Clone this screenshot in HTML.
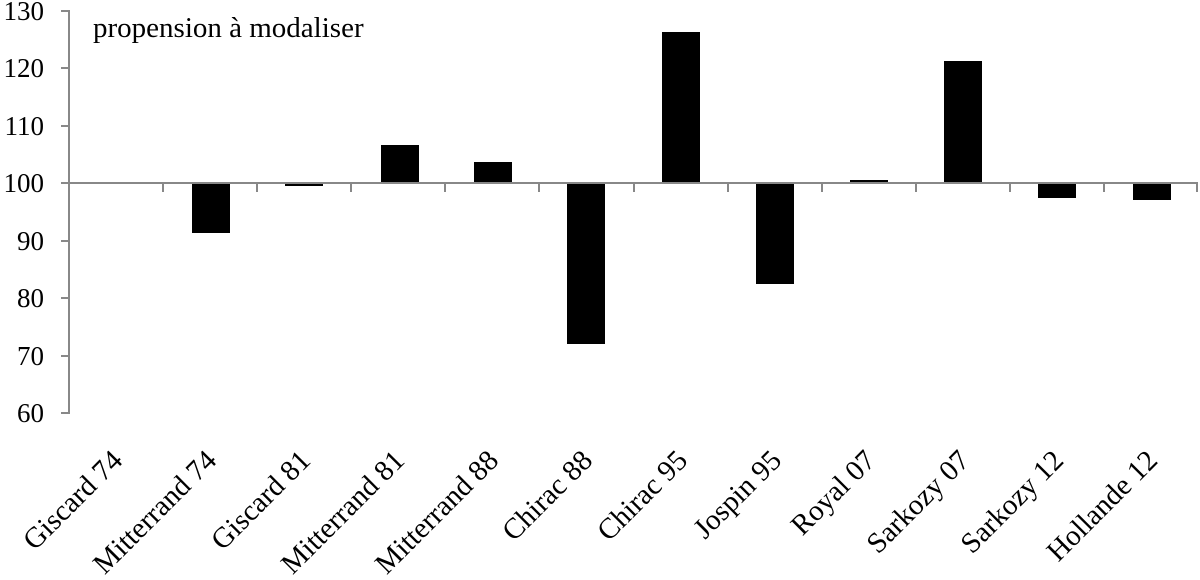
<!DOCTYPE html>
<html><head><meta charset="utf-8"><style>
html,body{margin:0;padding:0;background:#fff;}
svg{display:block;font-family:"Liberation Serif",serif;}
</style></head><body>
<svg width="1200" height="580" viewBox="0 0 1200 580">
<g fill="#000">
<rect x="192" y="183" width="38" height="50"/>
<rect x="285" y="183" width="38" height="3"/>
<rect x="381" y="145" width="38" height="38"/>
<rect x="474" y="162" width="38" height="21"/>
<rect x="567" y="183" width="38" height="161"/>
<rect x="662" y="32" width="38" height="151"/>
<rect x="756" y="183" width="38" height="101"/>
<rect x="850" y="180" width="38" height="3"/>
<rect x="944" y="61" width="38" height="122"/>
<rect x="1038" y="183" width="38" height="15"/>
<rect x="1133" y="183" width="38" height="17"/>
</g>
<g stroke="#888" stroke-width="2" fill="none">
<line x1="69" y1="10" x2="69" y2="414"/>
<line x1="61" y1="11" x2="69" y2="11"/>
<line x1="61" y1="68" x2="69" y2="68"/>
<line x1="61" y1="126" x2="69" y2="126"/>
<line x1="61" y1="183" x2="69" y2="183"/>
<line x1="61" y1="241" x2="69" y2="241"/>
<line x1="61" y1="298" x2="69" y2="298"/>
<line x1="61" y1="356" x2="69" y2="356"/>
<line x1="61" y1="413" x2="69" y2="413"/>
<line x1="69" y1="183" x2="1198" y2="183"/>
<line x1="163" y1="183" x2="163" y2="192"/>
<line x1="257" y1="183" x2="257" y2="192"/>
<line x1="351" y1="183" x2="351" y2="192"/>
<line x1="445" y1="183" x2="445" y2="192"/>
<line x1="539" y1="183" x2="539" y2="192"/>
<line x1="634" y1="183" x2="634" y2="192"/>
<line x1="728" y1="183" x2="728" y2="192"/>
<line x1="822" y1="183" x2="822" y2="192"/>
<line x1="916" y1="183" x2="916" y2="192"/>
<line x1="1010" y1="183" x2="1010" y2="192"/>
<line x1="1104" y1="183" x2="1104" y2="192"/>
<line x1="1197" y1="183" x2="1197" y2="192"/>
</g>
<g font-size="27" text-anchor="end" fill="#000">
<text x="44" y="20">130</text>
<text x="44" y="77">120</text>
<text x="44" y="135">110</text>
<text x="44" y="192">100</text>
<text x="44" y="250">90</text>
<text x="44" y="307">80</text>
<text x="44" y="365">70</text>
<text x="44" y="422">60</text>
</g>
<text x="93" y="37" font-size="29" fill="#000">propension à modaliser</text>
<g font-size="29" text-anchor="end" fill="#000">
<text transform="translate(124,462) rotate(-45)">Giscard 74</text>
<text transform="translate(218,462) rotate(-45)">Mitterrand 74</text>
<text transform="translate(312,462) rotate(-45)">Giscard 81</text>
<text transform="translate(406,462) rotate(-45)">Mitterrand  81</text>
<text transform="translate(500,462) rotate(-45)">Mitterrand 88</text>
<text transform="translate(594,462) rotate(-45)">Chirac 88</text>
<text transform="translate(689,462) rotate(-45)">Chirac 95</text>
<text transform="translate(783,462) rotate(-45)">Jospin 95</text>
<text transform="translate(877,462) rotate(-45)">Royal 07</text>
<text transform="translate(971,462) rotate(-45)">Sarkozy 07</text>
<text transform="translate(1065,462) rotate(-45)">Sarkozy 12</text>
<text transform="translate(1159,462) rotate(-45)">Hollande 12</text>
</g>
</svg>
</body></html>
